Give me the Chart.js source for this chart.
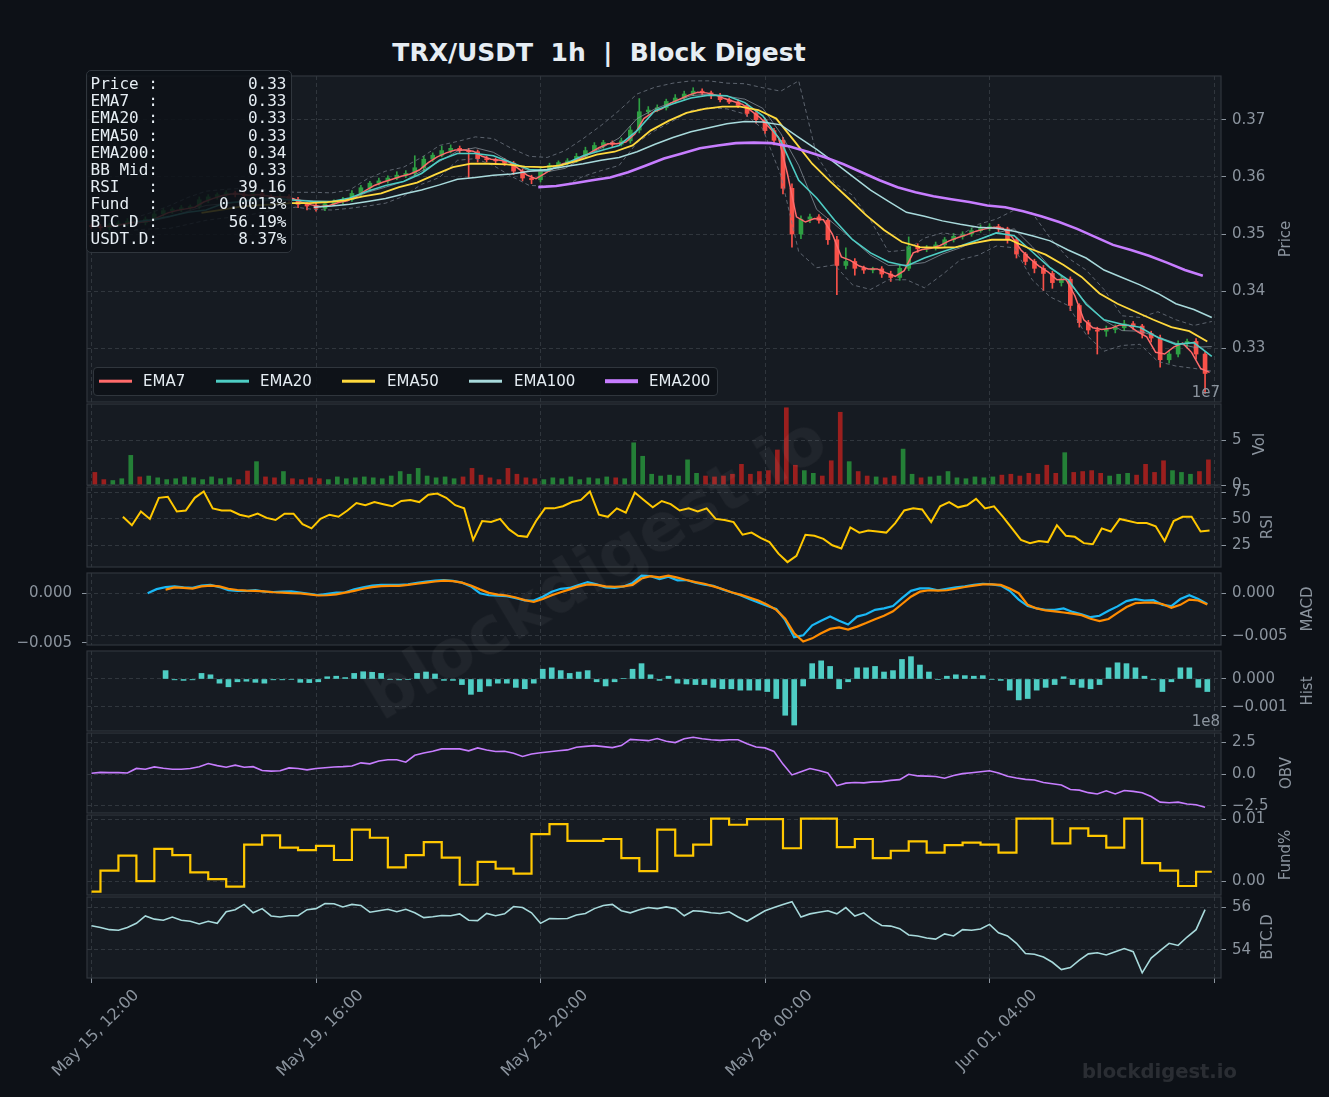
<!DOCTYPE html>
<html>
<head>
<meta charset="utf-8">
<script src="https://cdn.jsdelivr.net/npm/chart.js@4.4.1/dist/chart.umd.min.js"></script>
<style>
  html, body { margin: 0; padding: 0; }
  body { width: 1329px; height: 1097px; background: #0d1117; position: relative; overflow: hidden; font-family: 'DejaVu Sans', sans-serif; }
  .panel { position: absolute; left: 0; width: 1329px; }
  .ylab { position: absolute; color: #8b949e; font-size: 15px; white-space: nowrap; transform: translate(-50%, -50%) rotate(-90deg); }
  #title { position: absolute; left: 599px; top: 52px; transform: translate(-50%, -50%); color: #e6edf3; font-weight: bold; font-size: 25px; white-space: pre; }
  #info { position: absolute; left: 86px; top: 70px; width: 206px; height: 183px; box-sizing: border-box; background: rgba(13,17,23,0.86); border: 1.5px solid #30363d; border-radius: 5px; padding: 4px 4.5px 0 3.5px; font-family: 'DejaVu Sans Mono', monospace; font-size: 16px; line-height: 17.2px; color: #e6edf3; }
  #info div { display: flex; justify-content: space-between; white-space: pre; }
  #legend { position: absolute; left: 93px; top: 367px; width: 625px; height: 29px; box-sizing: border-box; background: rgba(13,17,23,0.86); border: 1.5px solid #30363d; border-radius: 4px; }
  .lgl { position: absolute; width: 33px; height: 2.6px; transform: translateY(-50%); }
  .lgt { position: absolute; color: #e6edf3; font-size: 15px; transform: translateY(-50%); white-space: nowrap; }
  .off { position: absolute; color: #8b949e; font-size: 15px; transform: translate(-100%, -50%); }
  #wm { position: absolute; left: 595px; top: 567px; transform: translate(-50%, -50%) rotate(-31deg); font-weight: bold; font-size: 66px; color: rgba(255,255,255,0.045); white-space: nowrap; pointer-events: none; }
  #wm2 { position: absolute; left: 1082px; top: 1071px; transform: translateY(-50%); font-weight: bold; font-size: 19.5px; color: rgba(255,255,255,0.12); white-space: nowrap; }
</style>
</head>
<body>
<div id="title">TRX/USDT  1h  |  Block Digest</div>

<div class="panel" style="top:61px;height:356px"><canvas id="cPrice"></canvas></div>
<div class="panel" style="top:389px;height:111px"><canvas id="cVol"></canvas></div>
<div class="panel" style="top:472px;height:110px"><canvas id="cRsi"></canvas></div>
<div class="panel" style="top:554px;height:110px"><canvas id="cMacd"></canvas></div>
<div class="panel" style="top:636px;height:110px"><canvas id="cHist"></canvas></div>
<div class="panel" style="top:718px;height:110px"><canvas id="cObv"></canvas></div>
<div class="panel" style="top:800px;height:110px"><canvas id="cFund"></canvas></div>
<div class="panel" style="top:882px;height:215px"><canvas id="cBtcd"></canvas></div>

<div class="ylab" style="left:1285px;top:239px">Price</div>
<div class="ylab" style="left:1259px;top:444px">Vol</div>
<div class="ylab" style="left:1267px;top:527px">RSI</div>
<div class="ylab" style="left:1307px;top:609px">MACD</div>
<div class="ylab" style="left:1307px;top:691px">Hist</div>
<div class="ylab" style="left:1286px;top:773px">OBV</div>
<div class="ylab" style="left:1285px;top:855px">Fund%</div>
<div class="ylab" style="left:1267px;top:937px">BTC.D</div>

<div class="off" style="left:1220px;top:392px">1e7</div>
<div class="off" style="left:1220px;top:721px">1e8</div>

<div id="info"></div>

<div id="legend"></div>
<div class="lgl" style="left:99px;top:381px;background:#ff6b6b"></div><div class="lgt" style="left:143px;top:381px">EMA7</div>
<div class="lgl" style="left:216px;top:381px;background:#4ecdc4"></div><div class="lgt" style="left:260px;top:381px">EMA20</div>
<div class="lgl" style="left:342px;top:381px;background:#ffd93d"></div><div class="lgt" style="left:387px;top:381px">EMA50</div>
<div class="lgl" style="left:469px;top:381px;background:#a8dadc"></div><div class="lgt" style="left:514px;top:381px">EMA100</div>
<div class="lgl" style="left:605px;top:381px;background:#c77dff;height:3.6px"></div><div class="lgt" style="left:649px;top:381px">EMA200</div>

<div id="wm">blockdigest.io</div>
<div id="wm2">blockdigest.io</div>

<script>
// hours since May 15, 12:00 (1h candles)
const xMin = -2.0, xMax = 503.1;
const xTickHours = [0, 100, 200, 300, 400, 500];
const xTickLabels = ['May 15, 12:00', 'May 19, 16:00', 'May 23, 20:00', 'May 28, 00:00', 'Jun 01, 04:00', ''];

// price, 4h closes from hour 0
const open0 = 0.3515;
const closes = [0.3513,0.3511,0.3516,0.3519,0.3522,0.3520,0.3526,0.3535,0.3541,0.3543,
  0.3546,0.3548,0.3560,0.3565,0.3569,0.3572,0.3570,0.3567,0.3571,0.3566,
  0.3563,0.3566,0.3560,0.3552,0.3549,0.3545,0.3553,0.3557,0.3560,0.3571,
  0.3581,0.3589,0.3593,0.3598,0.3603,0.3606,0.3616,0.3631,0.3638,0.3646,
  0.3650,0.3646,0.3644,0.3632,0.3630,0.3628,0.3624,0.3610,0.3598,0.3595,
  0.3612,0.3620,0.3625,0.3628,0.3636,0.3646,0.3655,0.3660,0.3657,0.3663,
  0.3682,0.3714,0.3717,0.3721,0.3732,0.3738,0.3745,0.3750,0.3747,0.3742,
  0.3735,0.3731,0.3725,0.3711,0.3700,0.3681,0.3664,0.3580,0.3500,0.3526,
  0.3530,0.3524,0.3490,0.3445,0.3452,0.3440,0.3437,0.3439,0.3430,0.3424,
  0.3440,0.3478,0.3474,0.3476,0.3481,0.3490,0.3496,0.3500,0.3506,0.3510,
  0.3513,0.3509,0.3490,0.3465,0.3452,0.3440,0.3431,0.3415,0.3421,0.3375,
  0.3345,0.3332,0.3330,0.3333,0.3336,0.3343,0.3339,0.3326,0.3318,0.3280,
  0.3290,0.3308,0.3312,0.3290,0.3256];
// wick length beyond the body, in 0.0001
const wickHi = [3,4,3,4,5,3,4,6,4,3, 4,3,5,4,3,4,3,4,5,3, 3,4,3,4,3,5,4,3,4,5,
  4,3,5,4,6,5,21,5,4,8, 6,4,4,3,4,3,4,3,4,5, 5,4,3,4,5,6,5,4,3,5,
  6,23,6,5,4,6,5,6,4,3, 4,3,4,3,4,3,4,5,8,6, 5,4,3,6,24,5,4,3,4,5,
  6,17,5,4,5,4,5,4,5,6, 5,4,3,4,3,4,5,4,5,4, 3,4,5,6,5,6,4,3,4,5, 6,5,4,5,4];
const wickLo = [4,5,4,3,4,5,4,3,4,5, 4,3,4,5,4,3,5,4,3,4, 5,4,5,6,7,5,4,3,4,3,
  4,5,3,4,3,4,4,5,4,3, 4,5,45,6,4,5,4,6,5,7, 4,3,5,4,3,4,3,5,4,3,
  4,5,4,3,4,3,4,3,4,5, 4,3,4,5,6,5,8,10,23,8, 6,5,8,51,6,12,6,5,6,7,
  5,4,6,5,4,3,4,5,4,3, 4,5,6,7,6,8,30,10,6,9, 8,7,40,9,6,5,6,8,7,13, 6,5,7,9,35];

// EMA7, 4h from hour 6
const ema7 = [0.3513,0.3514,0.3517,0.3520,0.3521,0.3523,0.3530,0.3537,0.3541,0.3544,
  0.3547,0.3556,0.3562,0.3567,0.3570,0.3570,0.3568,0.3569,0.3567,0.3565,
  0.3565,0.3562,0.3555,0.3551,0.3548,0.3550,0.3555,0.3558,0.3566,0.3576,
  0.3585,0.3591,0.3596,0.3601,0.3605,0.3612,0.3625,0.3635,0.3642,0.3647,
  0.3647,0.3645,0.3636,0.3631,0.3629,0.3626,0.3615,0.3603,0.3597,0.3606,
  0.3616,0.3623,0.3627,0.3633,0.3642,0.3651,0.3658,0.3658,0.3661,0.3675,
  0.3702,0.3713,0.3719,0.3729,0.3736,0.3743,0.3748,0.3747,0.3743,0.3737,
  0.3732,0.3727,0.3715,0.3703,0.3686,0.3669,0.3605,0.3530,0.3521,0.3527,
  0.3525,0.3500,0.3460,0.3454,0.3444,0.3439,0.3439,0.3432,0.3426,0.3436,
  0.3467,0.3473,0.3475,0.3480,0.3488,0.3494,0.3499,0.3505,0.3509,0.3512,
  0.3510,0.3495,0.3472,0.3457,0.3444,0.3434,0.3420,0.3421,0.3392,0.3350,
  0.3336,0.3333,0.3335,0.3341,0.3340,0.3329,0.3320,0.3293,0.3290,0.3302,
  0.3309,0.3293,0.3265,0.3258];
// EMA20 and Bollinger, 8h from hour 19
const ema20 = [0.3521,0.3525,0.3531,0.3538,0.3542,0.3554,0.3557,0.3562,0.3562,0.3559,
  0.3557,0.3557,0.3563,0.3575,0.3585,0.3592,0.3606,0.3629,0.3641,0.3641,
  0.3637,0.3625,0.3613,0.3611,0.3623,0.3637,0.3646,0.3655,0.3681,0.3716,
  0.3728,0.3738,0.3743,0.3742,0.3730,0.3707,0.3663,0.3594,0.3563,0.3524,
  0.3490,0.3467,0.3451,0.3444,0.3458,0.3469,0.3479,0.3490,0.3502,0.3497,
  0.3469,0.3441,0.3420,0.3377,0.3350,0.3342,0.3337,0.3319,0.3307,0.3310,
  0.3286];
const bbUpper = [0.3528,0.3538,0.3550,0.3564,0.3575,0.3578,0.3580,0.3578,0.3575,0.3573,
  0.3573,0.3572,0.3577,0.3597,0.3610,0.3617,0.3634,0.3655,0.3662,0.3670,
  0.3667,0.3650,0.3636,0.3634,0.3646,0.3667,0.3690,0.3716,0.3745,0.3757,
  0.3764,0.3768,0.3768,0.3764,0.3763,0.3756,0.3750,0.3768,0.3637,0.3589,
  0.3568,0.3524,0.3469,0.3472,0.3493,0.3502,0.3498,0.3517,0.3526,0.3542,
  0.3537,0.3493,0.3458,0.3437,0.3403,0.3357,0.3354,0.3364,0.3350,0.3340,
  0.3347];
const bbLower = [0.3507,0.3509,0.3510,0.3517,0.3524,0.3528,0.3531,0.3537,0.3543,0.3547,
  0.3543,0.3542,0.3545,0.3549,0.3554,0.3566,0.3587,0.3599,0.3629,0.3632,
  0.3620,0.3601,0.3585,0.3584,0.3585,0.3601,0.3611,0.3620,0.3660,0.3681,
  0.3698,0.3716,0.3721,0.3719,0.3710,0.3684,0.3603,0.3469,0.3441,0.3446,
  0.3411,0.3403,0.3420,0.3420,0.3406,0.3429,0.3455,0.3463,0.3479,0.3476,
  0.3420,0.3390,0.3375,0.3324,0.3295,0.3305,0.3307,0.3277,0.3269,0.3265,
  0.3260];
const bbMid = [0.3518,0.3523,0.3530,0.3540,0.3550,0.3553,0.3556,0.3558,0.3559,0.3560,
  0.3558,0.3557,0.3561,0.3573,0.3582,0.3592,0.3610,0.3627,0.3645,0.3651,
  0.3643,0.3625,0.3610,0.3609,0.3615,0.3634,0.3650,0.3668,0.3702,0.3719,
  0.3731,0.3742,0.3745,0.3741,0.3736,0.3720,0.3676,0.3620,0.3543,0.3517,
  0.3490,0.3463,0.3445,0.3446,0.3450,0.3465,0.3476,0.3490,0.3502,0.3509,
  0.3478,0.3442,0.3416,0.3380,0.3349,0.3331,0.3330,0.3320,0.3309,0.3302,
  0.3303];
// EMA50 8h from hour 49, EMA100 from 99, EMA200 from 199
const ema50 = [0.3537,0.3542,0.3547,0.3550,0.3552,0.3554,0.3554,0.3556,0.3559,0.3566,
  0.3571,0.3582,0.3590,0.3604,0.3617,0.3623,0.3623,0.3622,0.3618,0.3617,
  0.3620,0.3629,0.3639,0.3644,0.3655,0.3681,0.3698,0.3712,0.3719,0.3723,
  0.3723,0.3717,0.3702,0.3663,0.3623,0.3592,0.3563,0.3533,0.3507,0.3486,
  0.3477,0.3476,0.3477,0.3484,0.3490,0.3490,0.3476,0.3464,0.3446,0.3425,
  0.3396,0.3378,0.3364,0.3350,0.3337,0.3330,0.3312];
const ema100 = [0.3547,0.3549,0.3552,0.3557,0.3562,0.3570,0.3577,0.3586,0.3596,0.3599,
  0.3603,0.3605,0.3610,0.3613,0.3618,0.3623,0.3629,0.3634,0.3644,0.3657,
  0.3669,0.3679,0.3686,0.3693,0.3697,0.3696,0.3691,0.3669,0.3648,0.3625,
  0.3601,0.3577,0.3557,0.3538,0.3531,0.3523,0.3517,0.3512,0.3510,0.3505,
  0.3497,0.3488,0.3472,0.3458,0.3437,0.3424,0.3411,0.3396,0.3378,0.3368,
  0.3354];
const ema200 = [0.3582,0.3584,0.3589,0.3594,0.3599,0.3608,0.3620,0.3632,0.3641,0.3650,
  0.3655,0.3659,0.3660,0.3659,0.3653,0.3644,0.3634,0.3622,0.3608,0.3594,
  0.3582,0.3573,0.3566,0.3561,0.3556,0.3550,0.3547,0.3540,0.3531,0.3521,
  0.3509,0.3495,0.3481,0.3472,0.3462,0.3450,0.3437,0.3427];

// volume (x1e7), one bar per 4h
const volume = [1.4,0.6,0.5,0.7,3.3,0.9,1.0,0.8,0.6,0.7, 0.9,0.8,0.6,0.9,0.7,0.8,0.6,1.56,2.6,0.9,
  0.8,1.5,0.7,0.6,0.8,0.7,0.6,0.9,0.7,0.8, 0.9,0.8,0.7,1.0,1.5,1.2,1.85,1.0,0.8,0.9,
  0.7,0.9,1.85,1.1,0.8,0.6,1.85,1.2,0.8,0.7, 0.6,0.8,0.7,0.9,0.6,0.8,0.7,0.9,0.8,0.7,
  4.7,3.2,1.2,1.0,1.1,1.0,2.8,1.3,1.0,0.9, 1.0,1.2,2.3,1.2,1.5,1.6,3.9,8.6,2.2,1.6,
  1.3,1.0,2.7,8.1,2.6,1.5,1.0,0.9,0.8,1.0, 4.0,1.2,0.8,0.9,1.0,1.5,0.8,0.7,0.9,0.8,
  0.9,1.1,1.2,1.0,1.3,1.2,2.2,1.3,3.6,1.4, 1.5,1.6,1.3,1.0,1.2,1.3,1.1,2.3,1.4,2.7,
  1.6,1.4,1.2,1.5,2.8];

// RSI, 4h from hour 14
const rsi = [52,44,57,50,70,71,57,58,70,76, 60,58,58,54,52,55,51,49,55,55,
  45,41,50,54,52,58,65,63,66,64, 62,67,68,66,73,74,70,63,60,30,
  48,47,50,40,34,33,48,60,60,62, 66,68,76,54,52,60,56,75,68,61,
  67,64,58,60,57,60,50,49,47,35, 37,32,28,17,9,15,35,34,31,25,
  22,42,37,39,38,37,46,58,60,59, 47,62,66,61,63,69,60,62,52,41,
  30,27,29,28,44,34,33,27,26,41, 38,50,48,46,46,43,29,48,52,52, 38,39];

// MACD 4h from hour 25, signal and histogram 4h from hour 33
const macd = [0.00003,0.00051,0.00075,0.00083,0.00072,0.00065,0.00093,0.00100,0.00075,0.00038,
  0.00031,0.00031,0.00038,0.00021,0.00017,0.00021,0.00024,0.00010,-0.00004,-0.00018,
  -0.00004,0.00010,0.00014,0.00048,0.00072,0.00093,0.00100,0.00100,0.00100,0.00107,
  0.00124,0.00141,0.00151,0.00158,0.00148,0.00127,0.00083,0.00003,-0.00021,-0.00025,
  -0.00031,-0.00055,-0.00083,-0.00083,-0.00038,0.00021,0.00055,0.00065,0.00100,0.00134,
  0.00107,0.00072,0.00065,0.00083,0.00124,0.00210,0.00203,0.00169,
  0.00197,0.00155,0.00158,0.00127,0.00103,0.00090,0.00048,0.00014,-0.00021,-0.00066,
  -0.00107,-0.00148,-0.00183,-0.00314,-0.00514,-0.00493,-0.00375,-0.00320,-0.00272,-0.00320,
  -0.00365,-0.00272,-0.00245,-0.00193,-0.00176,-0.00148,-0.00055,0.00031,0.00059,0.00059,
  0.00038,0.00055,0.00072,0.00083,0.00100,0.00114,0.00107,0.00093,0.00031,-0.00072,
  -0.00148,-0.00176,-0.00193,-0.00193,-0.00176,-0.00217,-0.00245,-0.00279,-0.00262,-0.00203,
  -0.00152,-0.00090,-0.00066,-0.00083,-0.00079,-0.00134,-0.00148,-0.00066,-0.00021,-0.00066,
  -0.00124];
const signal = [0.00045,0.00072,0.00065,0.00058,0.00083,0.00093,0.00083,0.00055,0.00041,0.00034,
  0.00031,0.00024,0.00014,0.00010,0.00003,0.00000,-0.00010,-0.00024,-0.00021,-0.00010,
  0.00010,0.00031,0.00055,0.00075,0.00086,0.00090,0.00090,0.00100,0.00114,0.00127,
  0.00141,0.00151,0.00145,0.00127,0.00093,0.00048,0.00007,-0.00014,-0.00024,-0.00048,
  -0.00079,-0.00100,-0.00066,-0.00021,0.00014,0.00048,0.00083,0.00107,0.00100,0.00083,
  0.00079,0.00083,0.00100,0.00176,0.00203,0.00190,
  0.00210,0.00186,0.00158,0.00134,0.00114,0.00083,0.00052,0.00014,-0.00014,-0.00048,
  -0.00083,-0.00134,-0.00193,-0.00297,-0.00469,-0.00566,-0.00528,-0.00469,-0.00417,-0.00400,
  -0.00424,-0.00390,-0.00348,-0.00303,-0.00262,-0.00210,-0.00124,-0.00038,0.00021,0.00038,
  0.00034,0.00038,0.00055,0.00076,0.00093,0.00107,0.00107,0.00100,0.00059,0.00003,
  -0.00134,-0.00176,-0.00200,-0.00210,-0.00224,-0.00238,-0.00255,-0.00297,-0.00324,-0.00300,
  -0.00228,-0.00159,-0.00114,-0.00107,-0.00107,-0.00124,-0.00169,-0.00134,-0.00072,-0.00083,
  -0.00131];
const hist = [0.00030,-0.00003,-0.00005,-0.00003,0.00020,0.00015,-0.00015,-0.00028,-0.00010,-0.00008,
  -0.00012,-0.00015,-0.00003,-0.00003,-0.00002,-0.00012,-0.00013,-0.00010,0.00008,0.00010,
  0.00005,0.00020,0.00026,0.00024,0.00020,-0.00002,-0.00003,-0.00002,0.00020,0.00025,
  0.00018,-0.00005,-0.00005,-0.00020,-0.00055,-0.00045,-0.00025,-0.00015,-0.00015,-0.00030,
  -0.00035,-0.00015,0.00035,0.00040,0.00030,0.00020,0.00025,0.00030,-0.00010,-0.00025,
  -0.00010,0.00002,0.00035,0.00055,0.00015,-0.00005,
  0.00010,-0.00015,-0.00018,-0.00020,-0.00020,-0.00030,-0.00035,-0.00035,-0.00040,-0.00040,
  -0.00040,-0.00045,-0.00070,-0.00130,-0.00165,-0.00025,0.00055,0.00065,0.00045,-0.00035,
  -0.00010,0.00040,0.00040,0.00045,0.00025,0.00030,0.00070,0.00080,0.00050,0.00025,
  -0.00002,0.00010,0.00015,0.00012,0.00010,0.00012,-0.00002,-0.00005,-0.00040,-0.00075,
  -0.00070,-0.00040,-0.00030,-0.00020,0.00008,-0.00020,-0.00030,-0.00035,-0.00020,0.00040,
  0.00058,0.00055,0.00040,0.00010,-0.00003,-0.00045,-0.00010,0.00040,0.00040,-0.00030,
  -0.00045];

// OBV (x1e8), 4h from hour 0
const obv = [0.08,0.15,0.13,0.13,0.10,0.46,0.40,0.58,0.48,0.40, 0.40,0.45,0.60,0.85,0.68,0.55,0.72,0.55,0.60,0.30,
  0.25,0.28,0.50,0.45,0.35,0.45,0.52,0.57,0.60,0.65, 0.90,0.82,1.05,1.15,1.15,0.95,1.50,1.67,1.82,2.00,
  2.00,2.00,1.85,2.08,1.92,1.80,1.82,1.65,1.40,1.60, 1.70,1.78,1.85,1.92,2.13,2.20,2.26,2.18,2.10,2.26,
  2.75,2.70,2.65,
  2.82,2.60,2.50,2.80,2.92,2.80,2.72,2.67,2.72,2.72, 2.40,2.15,2.08,1.80,0.80,-0.05,0.20,0.45,0.30,0.10,
  -0.90,-0.70,-0.65,-0.68,-0.60,-0.58,-0.48,-0.42,0.00,-0.13, -0.15,-0.18,-0.31,-0.10,0.05,0.12,0.20,0.28,0.10,-0.15,
  -0.30,-0.40,-0.45,-0.65,-0.75,-0.85,-1.20,-1.25,-1.45,-1.55, -1.30,-1.55,-1.28,-1.35,-1.45,-1.75,-2.20,-2.25,-2.20,-2.35,
  -2.40,-2.60];

// funding rate %, one value per funding window (first at hour 0, then every 8h from hour 4)
const fund = [-0.0017,0.0017,0.0041,0.0000,0.0052,0.0042,0.0014,0.0003,-0.0009,0.0059,
  0.0074,0.0054,0.0050,0.0057,0.0034,0.0083,0.0070,0.0022,0.0042,0.0063,
  0.0038,-0.0006,0.0031,0.0020,0.0012,0.0076,0.0092,0.0065,0.0065,0.0068,
  0.0037,0.0016,0.0083,0.0041,0.0059,0.0101,0.0091,0.0100,0.0100,0.0053,
  0.0101,0.0101,0.0055,0.0068,0.0037,0.0049,0.0064,0.0046,0.0058,0.0062,
  0.0059,0.0046,0.0101,0.0101,0.0061,0.0085,0.0073,0.0054,0.0101,0.0029,
  0.0017,-0.0008,0.0015];
const lastHour = 499;

// BTC dominance %, 4h from hour 0
const btcd = [55.14,55.05,54.95,54.92,55.05,55.25,55.60,55.45,55.40,55.55, 55.40,55.35,55.22,55.35,55.25,55.80,55.90,56.15,55.75,55.95,
  55.60,55.55,55.61,55.61,55.90,55.95,56.19,56.18,56.03,56.15, 56.10,55.78,55.85,55.92,55.80,55.92,55.75,55.52,55.56,55.62,
  55.61,55.70,55.40,55.38,55.72,55.61,55.70,56.05,56.00,55.75, 55.25,55.48,55.47,55.48,55.65,55.72,55.95,56.10,56.15,55.85,
  55.75,55.90,56.00,
  55.95,56.03,55.95,55.61,55.85,55.82,55.75,55.72,55.80,55.55, 55.35,55.60,55.85,56.00,56.15,56.28,55.55,55.70,55.78,55.85,
  55.70,56.00,55.60,55.75,55.40,55.15,55.12,55.00,54.70,54.65, 54.55,54.50,54.75,54.65,54.95,54.92,54.98,55.20,54.80,54.65,
  54.30,53.82,53.78,53.65,53.40,53.05,53.15,53.50,53.80,53.85, 53.75,53.90,54.05,53.90,52.90,53.60,53.95,54.30,54.20,54.60,
  54.95,55.90];

const infoRows = [['Price :', '0.33'], ['EMA7  :', '0.33'], ['EMA20 :', '0.33'], ['EMA50 :', '0.33'],
  ['EMA200:', '0.34'], ['BB Mid:', '0.33'], ['RSI   :', '39.16'], ['Fund  :', '0.0013%'],
  ['BTC.D :', '56.19%'], ['USDT.D:', '8.37%']];

document.getElementById('info').innerHTML = infoRows
  .map(r => '<div><span>' + r[0] + '</span><span>' + r[1] + '</span></div>').join('');

Chart.defaults.font.family = 'DejaVu Sans';
Chart.defaults.font.size = 15;

const GRID = '#30363d', TICK = '#8b949e', M = 14;
const UP = '#2ea043', DOWN = '#f85149';

function pts(start, step, vals) {
  return vals.map((v, i) => ({ x: start + i * step, y: v }));
}

const framePlugin = {
  id: 'frame',
  beforeDraw(c) {
    const a = c.chartArea, g = c.ctx;
    g.save();
    g.fillStyle = '#161b22';
    g.fillRect(a.left, a.top, a.right - a.left, a.bottom - a.top);
    g.restore();
  },
  afterDraw(c) {
    const a = c.chartArea, g = c.ctx;
    g.save();
    g.strokeStyle = '#30363d';
    g.lineWidth = 1.2;
    g.strokeRect(a.left, a.top, a.right - a.left, a.bottom - a.top);
    g.restore();
  }
};

function xAxis(bottom) {
  return {
    type: 'linear', min: xMin, max: xMax, offset: false, bounds: 'data',
    afterBuildTicks: s => { s.ticks = xTickHours.map(v => ({ value: v })); },
    afterFit: s => { s.height = bottom ? 119 : 0; },
    grid: { color: GRID, lineWidth: 1, offset: false, drawTicks: bottom, tickLength: 5, tickColor: TICK },
    border: { display: false, dash: [4, 3] },
    ticks: bottom
      ? { display: true, autoSkip: false, minRotation: 45, maxRotation: 45, labelOffset: 45, padding: 3,
          color: TICK, font: { size: 16 }, callback: (v, i) => xTickLabels[i] }
      : { display: false }
  };
}

function yAxis(min, max, ticks, fmt, left) {
  return {
    position: left ? 'left' : 'right', min, max, bounds: 'data',
    afterBuildTicks: s => { s.ticks = ticks.map(v => ({ value: v })); },
    afterFit: s => { s.width = left ? 87 : 108; },
    grid: { color: GRID, lineWidth: 1, drawOnChartArea: !left, tickLength: 5, tickColor: TICK, tickWidth: 1 },
    border: { display: false, dash: [4, 3] },
    ticks: { color: TICK, padding: left ? 10 : 6, callback: v => fmt(v).replace('-', '\u2212') }
  };
}

function line(data, color, width, extra) {
  return Object.assign({ type: 'line', data, borderColor: color, borderWidth: width, pointRadius: 0, fill: false }, extra || {});
}

function makeChart(id, datasets, yScales, opt) {
  opt = opt || {};
  return new Chart(document.getElementById(id), {
    type: 'line',
    data: { datasets },
    options: {
      responsive: true, maintainAspectRatio: false, devicePixelRatio: 1, animation: false, events: [],
      layout: { autoPadding: false, padding: { left: opt.left === undefined ? 87 : opt.left, right: 0, top: M, bottom: opt.bottom ? 0 : M } },
      plugins: { legend: { display: false }, tooltip: { enabled: false } },
      scales: Object.assign({ x: xAxis(!!opt.bottom) }, yScales)
    },
    plugins: [framePlugin]
  });
}

// candles
const opens = closes.map((c, i) => (i ? closes[i - 1] : open0));
const candleColor = closes.map((c, i) => (c >= opens[i] ? UP : DOWN));
const bodies = closes.map((c, i) => ({ x: i * 4, y: [opens[i], c] }));
const wicks = closes.map((c, i) => ({
  x: i * 4,
  y: [Math.min(opens[i], c) - wickLo[i] * 1e-4, Math.max(opens[i], c) + wickHi[i] * 1e-4]
}));

makeChart('cPrice', [
  line(pts(199, 8, ema200), '#c77dff', 2.6, { order: 1 }),
  line(pts(99, 8, ema100), '#a8dadc', 1.5, { order: 2 }),
  line(pts(49, 8, ema50), '#ffd93d', 1.8, { order: 3 }),
  line(pts(19, 8, ema20), '#4ecdc4', 1.6, { order: 4 }),
  line(pts(6, 4, ema7), '#ff6b6b', 1.5, { order: 5 }),
  line(pts(19, 8, bbMid), 'rgba(139,148,158,0.75)', 1, { order: 6 }),
  line(pts(19, 8, bbUpper), 'rgba(110,118,129,0.8)', 1, { order: 7, borderDash: [4, 3] }),
  line(pts(19, 8, bbLower), 'rgba(110,118,129,0.8)', 1, { order: 7, borderDash: [4, 3] }),
  { type: 'bar', data: bodies, backgroundColor: candleColor, barThickness: 4, grouped: false, minBarLength: 1, order: 8 },
  { type: 'bar', data: wicks, backgroundColor: candleColor, barThickness: 1, grouped: false, order: 9 }
], { y: yAxis(0.320609, 0.377652, [0.33, 0.34, 0.35, 0.36, 0.37], v => v.toFixed(2)) });

makeChart('cVol', [
  { type: 'bar', data: pts(1.5, 4, volume), grouped: false, barThickness: 4,
    backgroundColor: candleColor.map(c => (c === UP ? 'rgba(38,140,58,0.9)' : 'rgba(170,32,30,0.9)')) }
], { y: yAxis(0, 9.02, [0, 5], v => String(v)) });

makeChart('cRsi', [
  line(pts(14, 4, rsi), '#ffc800', 2)
], { y: yAxis(4.35, 80.28, [25, 50, 75], v => String(v)) });

makeChart('cMacd', [
  line(pts(25, 4, macd), '#1ab8f5', 2.2, { yAxisID: 'y', order: 1 }),
  line(pts(33, 4, signal), '#ff8c00', 2.2, { yAxisID: 'y', order: 0 })
], {
  y: yAxis(-0.006064, 0.002407, [-0.005, 0], v => v.toFixed(3)),
  yl: yAxis(-0.00524, 0.00208, [-0.005, 0], v => v.toFixed(3), true)
}, { left: 0 });

makeChart('cHist', [
  { type: 'bar', data: pts(33, 4, hist), grouped: false, barThickness: 5, backgroundColor: '#4ecdc4' }
], { y: yAxis(-0.001864, 0.001003, [-0.001, 0], v => v.toFixed(3)) });

makeChart('cObv', [
  line(pts(0, 4, obv), '#c77dff', 1.6)
], { y: yAxis(-3.054, 3.254, [-2.5, 0, 2.5], v => v.toFixed(1)) });

const fundPts = fund.map((v, i) => ({ x: i ? 4 + 8 * (i - 1) : 0, y: v }));
fundPts.push({ x: lastHour, y: fund[fund.length - 1] });
makeChart('cFund', [
  line(fundPts, '#ffc800', 2.2, { stepped: 'before' })
], { y: yAxis(-0.002256, 0.010678, [0, 0.01], v => v.toFixed(2)) });

makeChart('cBtcd', [
  line(pts(0, 4, btcd), '#a8dadc', 1.6)
], { y: yAxis(52.653, 56.502, [54, 56], v => String(v)) }, { bottom: true });
</script>
</body>
</html>
